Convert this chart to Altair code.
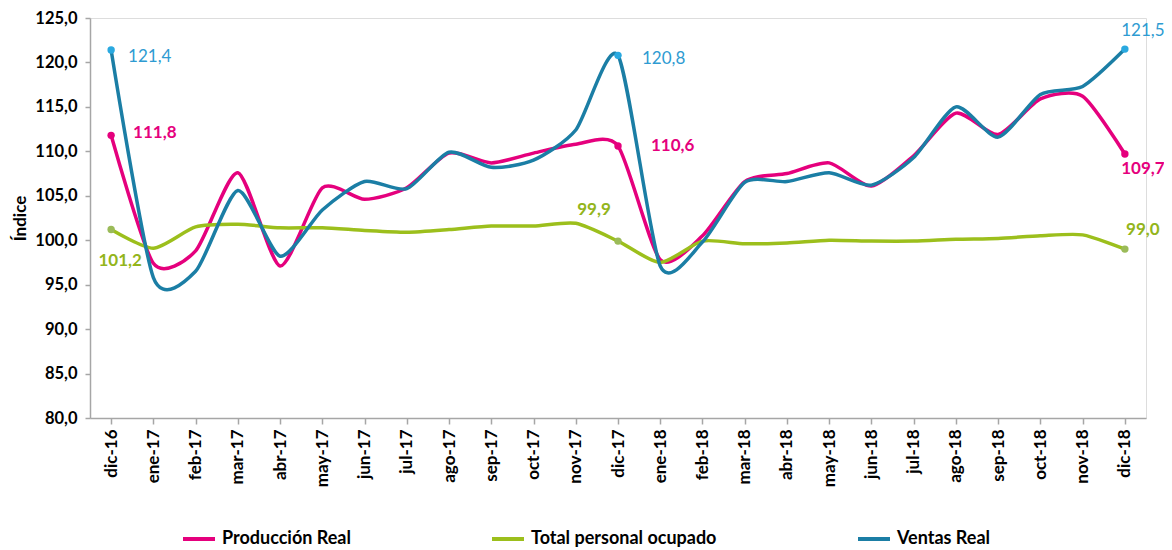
import altair as alt
import pandas as pd

months = ["dic-16", "ene-17", "feb-17", "mar-17", "abr-17", "may-17", "jun-17", "jul-17",
          "ago-17", "sep-17", "oct-17", "nov-17", "dic-17", "ene-18", "feb-18", "mar-18",
          "abr-18", "may-18", "jun-18", "jul-18", "ago-18", "sep-18", "oct-18", "nov-18", "dic-18"]
produccion = [111.8, 97.4, 98.8, 107.6, 97.1, 105.9, 104.6, 105.9, 109.8, 108.7, 109.8, 110.8,
              110.6, 97.8, 100.5, 106.6, 107.5, 108.7, 106.1, 109.5, 114.3, 111.9, 115.9, 116.2, 109.7]
personal = [101.2, 99.1, 101.5, 101.8, 101.4, 101.4, 101.1, 100.9, 101.2, 101.6, 101.6, 101.9,
            99.9, 97.5, 99.9, 99.6, 99.7, 100.0, 99.9, 99.9, 100.1, 100.2, 100.5, 100.6, 99.0]
ventas = [121.4, 95.8, 96.5, 105.6, 98.2, 103.4, 106.6, 105.8, 109.9, 108.2, 109.0, 112.4,
          120.8, 97.1, 99.8, 106.5, 106.6, 107.6, 106.2, 109.3, 115.0, 111.6, 116.4, 117.3, 121.5]
series_names = ["Producción Real", "Total personal ocupado", "Ventas Real"]
label_idx = [0, 12, 24]

line_colors = ["#E5007D", "#9CBF1C", "#1B7EA5"]
dot_colors = ["#E5007D", "#9BBB59", "#2AA9E0"]
text_colors = ["#E5007D", "#93B51B", "#2E9BD2"]
text_weights = ["bold", "bold", "normal"]

rows = []
for name, vals in zip(series_names, [produccion, personal, ventas]):
    for i, (m, v) in enumerate(zip(months, vals)):
        rows.append({"mes": m, "serie": name, "valor": v, "idx": i,
                     "txt": f"{v:.1f}".replace(".", ",")})
df = pd.DataFrame(rows)

FONT = "Lato"
x_enc = alt.X("mes:N", sort=months, title=None,
              scale=alt.Scale(paddingInner=0, paddingOuter=0),
              axis=alt.Axis(labelAngle=-90, labelFont=FONT, labelFontSize=17, labelFontWeight="bold",
                            labelColor="#000000", domainColor="#A6A6A6", domainWidth=1.5,
                            tickColor="#A6A6A6", tickWidth=1.5, tickSize=6, bandPosition=0,
                            labelPadding=5, labelBaseline="middle", labelAlign="right"))
y_enc = alt.Y("valor:Q", title="Índice",
              scale=alt.Scale(domain=[80, 125], nice=False, zero=False),
              axis=alt.Axis(values=list(range(80, 126, 5)), grid=False,
                            labelExpr="replace(format(datum.value, '.1f'), '.', ',')",
                            labelFont=FONT, labelFontSize=16.5, labelFontWeight="bold",
                            labelColor="#000000", domainColor="#A6A6A6", domainWidth=1.5,
                            tickColor="#A6A6A6", tickWidth=1.5, tickSize=5, labelPadding=8,
                            titleFont=FONT, titleFontSize=17, titleFontWeight="bold",
                            titleColor="#000000", titlePadding=5))

color_scale = alt.Scale(domain=series_names, range=line_colors)

lines = alt.Chart(df).mark_line(interpolate="cardinal", tension=0.3, strokeWidth=3.5).encode(
    x=x_enc, y=y_enc,
    color=alt.Color("serie:N", scale=color_scale, sort=series_names,
                    legend=alt.Legend(title=None, orient="none", legendX=91, legendY=503,
                                      direction="horizontal", columnPadding=133,
                                      symbolType="stroke", symbolSize=1024, symbolStrokeWidth=4,
                                      labelFont=FONT, labelFontSize=18, labelFontWeight="bold",
                                      labelColor="#000000", labelOffset=5, labelLimit=400)),
    detail="serie:N",
)

layers = [lines]
# label offsets: (series, index) -> (dx, dy, align)
offsets = {
    (0, 0): (22, -2, "left"), (0, 12): (33, 0, "left"), (0, 24): (18, 15, "center"),
    (1, 0): (9, 31, "center"), (1, 12): (-24, -31, "center"), (1, 24): (18, -19, "center"),
    (2, 0): (17, 7, "left"), (2, 12): (24, 4, "left"), (2, 24): (18, -18, "center"),
}
for s, name in enumerate(series_names):
    sub = df[(df.serie == name) & (df.idx.isin(label_idx))]
    layers.append(alt.Chart(sub).mark_circle(size=55, opacity=1, color=dot_colors[s]).encode(
        x=alt.X("mes:N", sort=months), y="valor:Q"))
    for i in label_idx:
        dx, dy, al = offsets[(s, i)]
        layers.append(alt.Chart(df[(df.serie == name) & (df.idx == i)]).mark_text(
            dx=dx, dy=dy, align=al, baseline="middle", font=FONT, fontSize=17,
            fontWeight=text_weights[s], color=text_colors[s]).encode(
            x=alt.X("mes:N", sort=months), y="valor:Q", text="txt:N"))

chart = alt.layer(*layers).properties(
    width=1056, height=400,
    autosize=alt.AutoSizeParams(type="none"),
    padding={"left": 82, "top": 10, "right": 18, "bottom": 131},
).configure_view(stroke=None).configure(background="#FFFFFF")

chart.save("out.html", embed_options={"renderer": "svg", "actions": False})
